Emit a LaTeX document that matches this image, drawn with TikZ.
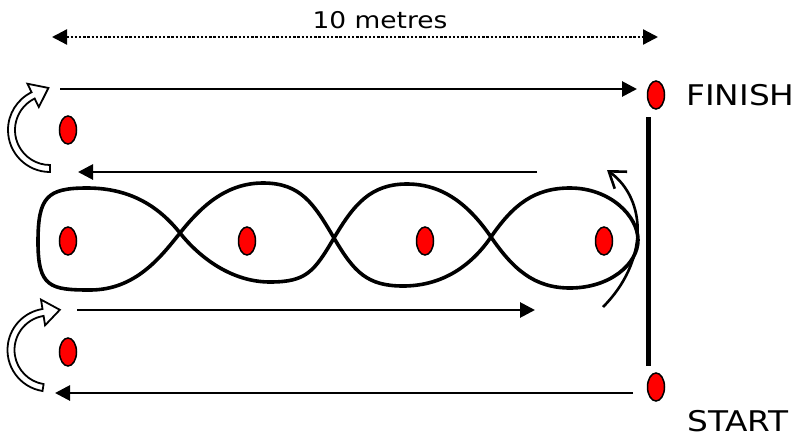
\documentclass[tikz,border=0pt]{standalone}
\usepackage{fontspec}
\setmainfont{DejaVu Sans}[FakeStretch=1.15]
\usepackage{tikz}
\usetikzlibrary{shapes.geometric,arrows.meta,positioning,calc}
% hollow turning arrow: centre, start angle, end angle, mid radius
\newcommand{\turnarrow}[4]{\pgfmathsetmacro\turnout{#4+3.5}\pgfmathsetmacro\turnin{#4-3.5}%
  \pgfmathsetmacro\turnhi{#4+13}\pgfmathsetmacro\turnlo{#4-13}%
  \draw[hollow] ($(#1)+(#2:\turnout)$) arc[start angle=#2,end angle=#3,radius=\turnout] -- ($(#1)+(#3:\turnhi)$)
    -- ($(#1)+(#3:#4)+(#3+90:17)$) -- ($(#1)+(#3:\turnlo)$) -- ($(#1)+(#3:\turnin)$) arc[start angle=#3,end angle=#2,radius=\turnin] -- cycle;}

\begin{document}
\begin{tikzpicture}[x=1pt,y=-1pt,cone/.style={ellipse,draw,fill=red,line width=1.5pt,minimum width=17pt,minimum height=28pt,inner sep=0pt},
  lane/.style={-{Triangle[length=15pt,width=15pt]},line width=2.8pt},lbl/.style={inner sep=0pt,font=\fontsize{28.5}{30}\selectfont},
  hollow/.style={draw,fill=white,line width=1.8pt},weave/.style={line width=3.6pt}]
\useasboundingbox (0,0) rectangle (801,437);
% cones and labels
\node[cone](fincone) at (656,95) {}; \node[cone](tlcone) at (68,130) {};
\foreach \x/\n in {68/c1,247/c2,425/c3,604/c4} \node[cone](\n) at (\x,241) {};
\node[cone](blcone) at (68,352) {}; \node[cone](stcone) at (656,387) {};
\node[lbl,right=21pt of fincone](finish){FINISH}; \node[lbl,anchor=west](start) at (687,421){START};
\node[lbl,font=\fontsize{23}{25}\selectfont](len) at (380,20){10 metres};
% end points of the runs
\coordinate (d1) at (52,37); \coordinate (d2) at (658,37);
\coordinate (r1s) at (60,89); \coordinate (r1e) at (637,89); \coordinate (r2s) at (537,172); \coordinate (r2e) at (78,172);
\coordinate (r3s) at (77,310); \coordinate (r3e) at (535,310); \coordinate (r4s) at (633,393); \coordinate (r4e) at (55,393);
\coordinate (gtop) at (648,117); \coordinate (gbot) at (648,366); \coordinate (sw1) at (603,307); \coordinate (sw2) at (607,170);
\draw[{Triangle[length=15pt,width=15pt]}-{Triangle[length=15pt,width=15pt]},line width=2.3pt,dash pattern=on 2.3pt off 1.9pt](d1)--(d2);
\draw[lane](r1s)--(r1e); \draw[lane](r2s)--(r2e); \draw[lane](r3s)--(r3e); \draw[lane](r4s)--(r4e);
\draw[line width=5pt](gtop)--(gbot);
% slalom through the cones
\draw[weave] (38,242) .. controls +(0,-45) and +(-40,0) .. (87,188) .. controls +(45,0) and +(-20,-25) .. (180,233)
  .. controls +(20,25) and +(-38,0) .. (270,282) .. controls +(36,0) and +(-20,34) .. (334,238)
  .. controls +(20,-34) and +(-36,0) .. (407,184) .. controls +(36,0) and +(-22,-32) .. (491,237)
  .. controls +(22,32) and +(-36,0) .. (570,288) .. controls +(40,0) and +(0,24) .. (638,240)
  .. controls +(0,-24) and +(40,0) .. (570,188) .. controls +(-36,0) and +(22,-32) .. (491,237)
  .. controls +(-22,32) and +(36,0) .. (403,286) .. controls +(-36,0) and +(20,34) .. (334,238)
  .. controls +(-20,-34) and +(38,0) .. (263,183) .. controls +(-38,0) and +(20,-25) .. (180,233)
  .. controls +(-20,25) and +(45,0) .. (90,290) .. controls +(-40,0) and +(0,45) .. (38,242) -- cycle;
\draw[-{Straight Barb[length=15pt,width=21pt]},line width=2.6pt](sw1) .. controls (648,262) and (648,200) .. (sw2);
\coordinate (tc) at (50,130); \coordinate (bc) at (49,350);
\turnarrow{tc}{90}{244}{38.5} \turnarrow{bc}{99}{261}{38}
\end{tikzpicture}
\end{document}
